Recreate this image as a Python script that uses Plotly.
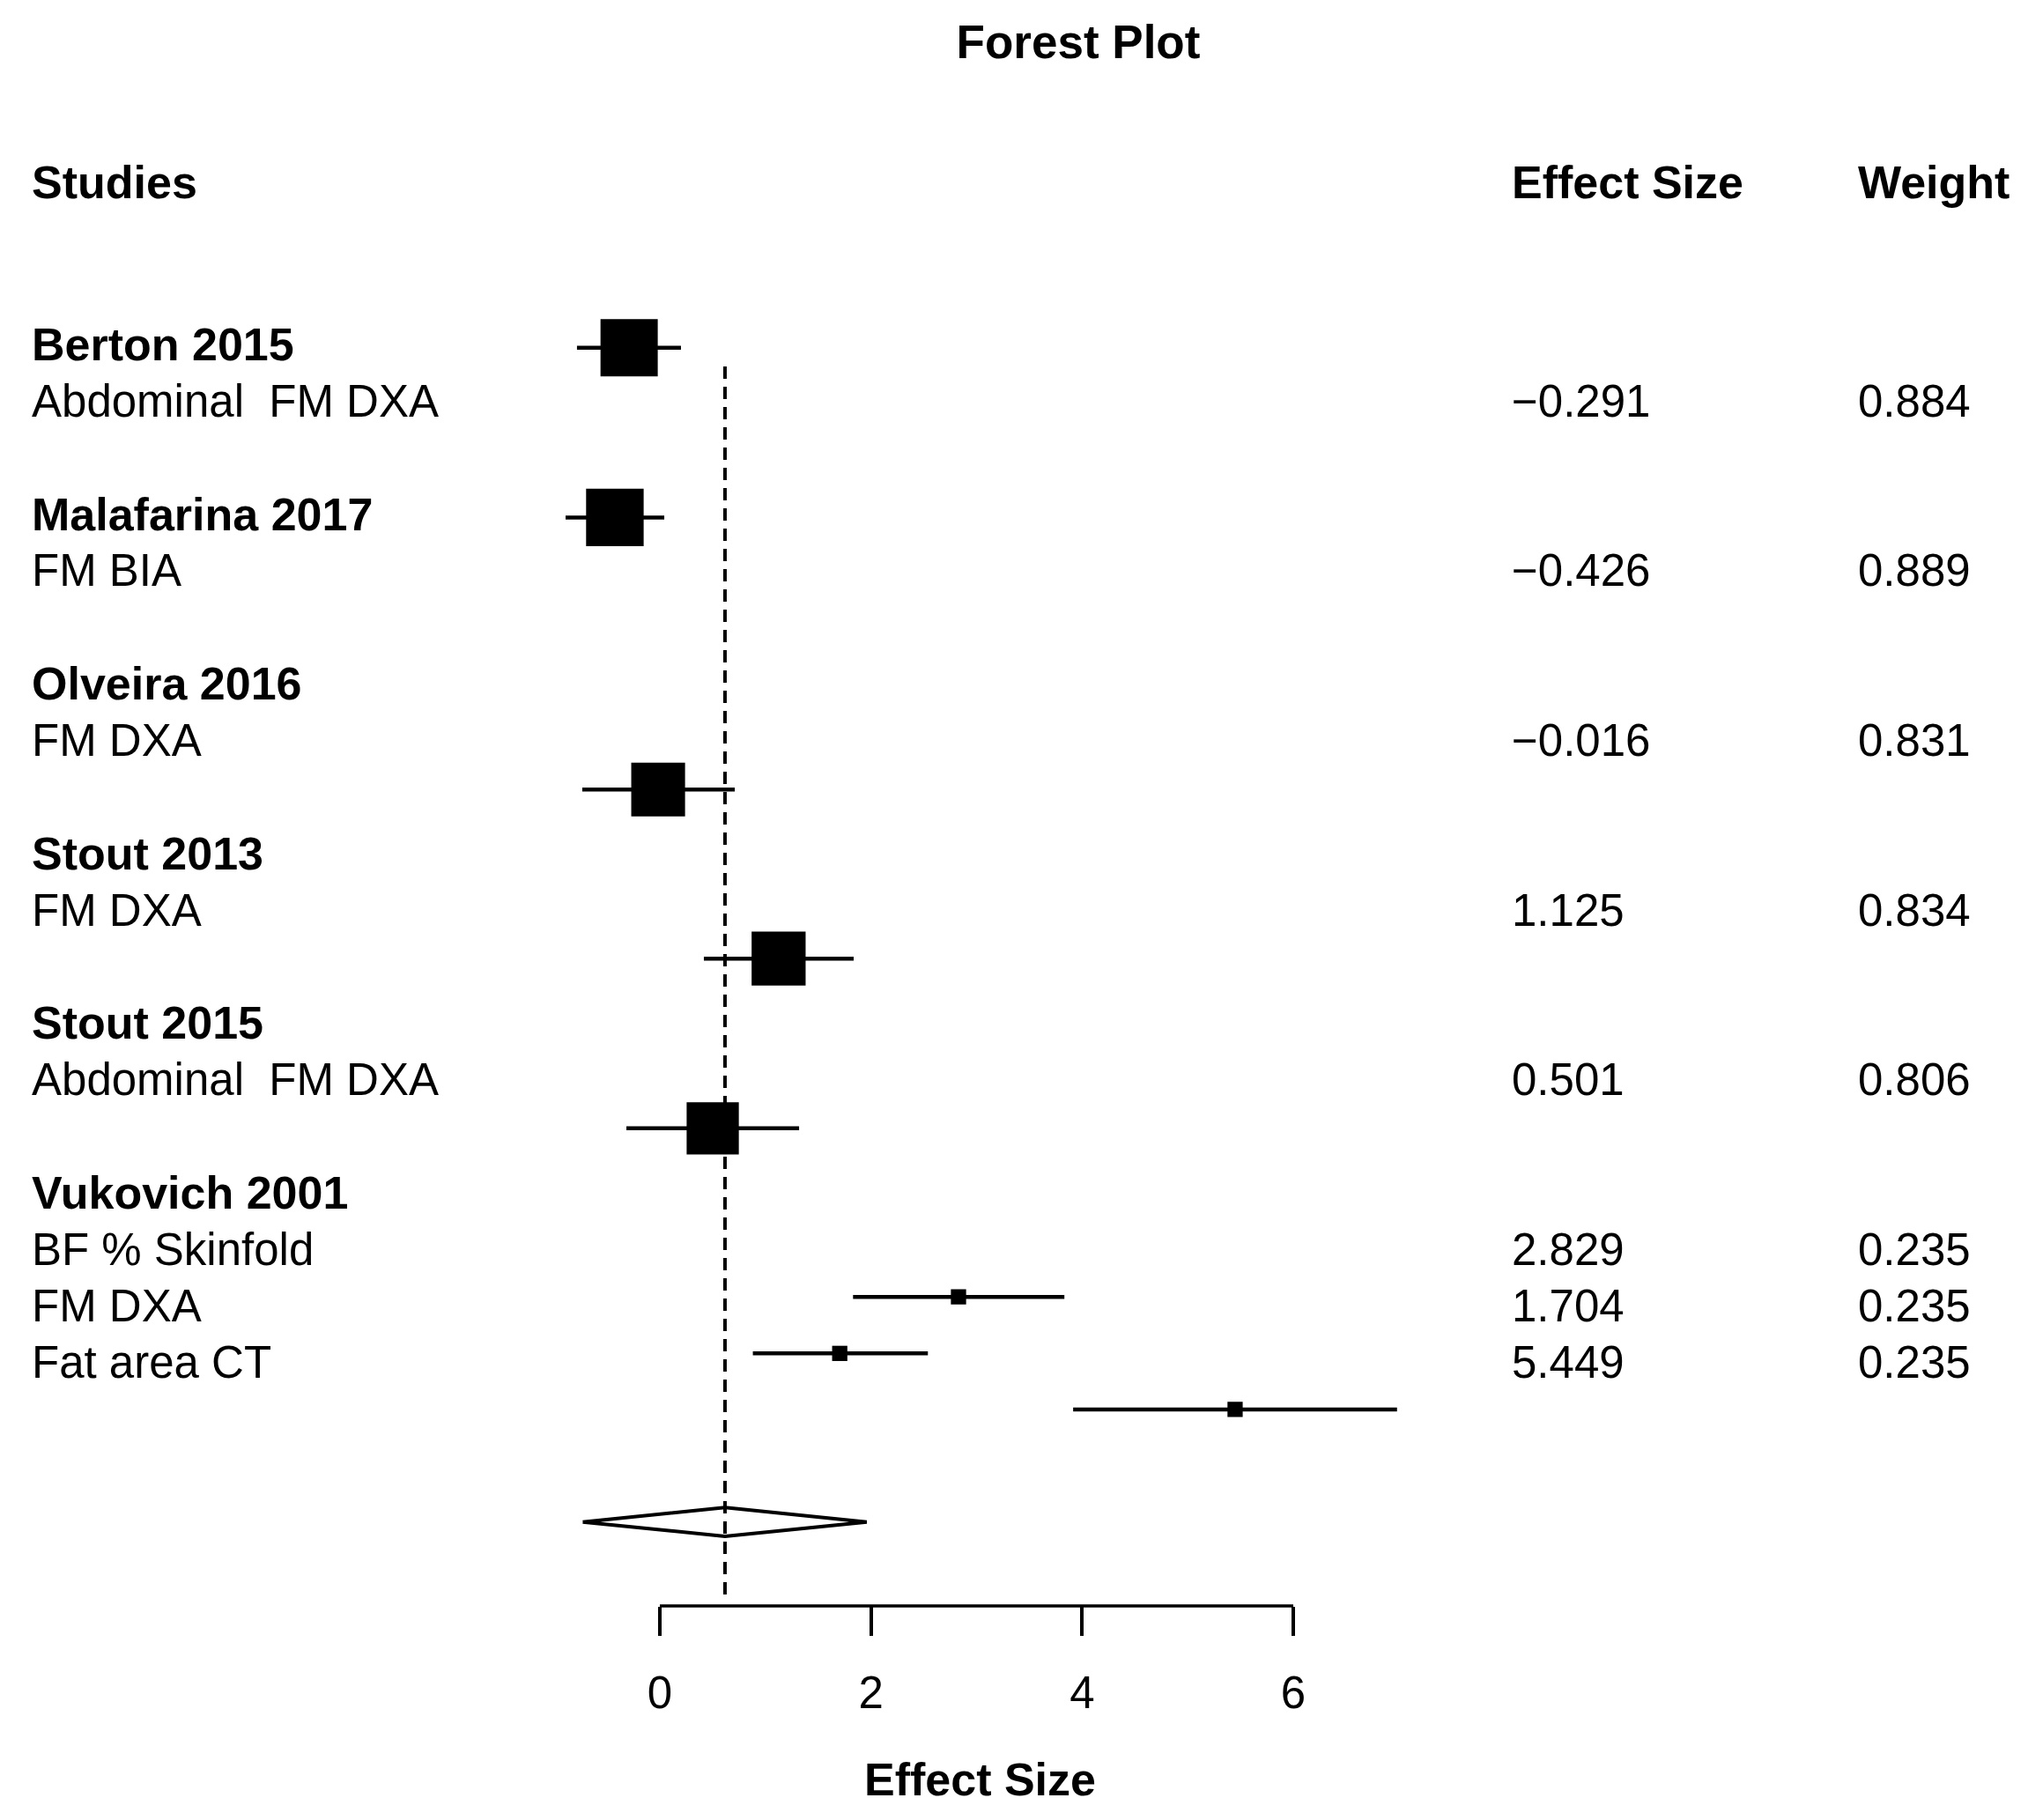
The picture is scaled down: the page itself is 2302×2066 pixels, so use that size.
import plotly.graph_objects as go

# study blocks as printed in the left column
studies = ["Berton 2015", "Malafarina 2017", "Olveira 2016", "Stout 2013", "Stout 2015", "Vukovich 2001"]
study_rows = [0, 3, 6, 9, 12, 15]

outcomes = ["Abdominal  FM DXA", "FM BIA", "FM DXA", "FM DXA", "Abdominal  FM DXA",
            "BF % Skinfold", "FM DXA", "Fat area CT"]
outcome_rows = [1, 4, 7, 10, 13, 16, 17, 18]

effect = [-0.291, -0.426, -0.016, 1.125, 0.501, 2.829, 1.704, 5.449]
ci_low = [-0.785, -0.893, -0.735, 0.417, -0.317, 1.830, 0.881, 3.915]
ci_high = [0.200, 0.042, 0.710, 1.836, 1.319, 3.832, 2.539, 6.983]
weight = [0.884, 0.889, 0.831, 0.834, 0.806, 0.235, 0.235, 0.235]
# rows where the boxes ended up in the original figure
box_rows = [0.06, 3.06, 7.87, 10.86, 13.86, 16.84, 17.84, 18.83]

summary_est = 0.617
summary_low = -0.73
summary_high = 1.96
summary_row = 20.82

x_ticks = [0, 2, 4, 6]

# page body has an 8px margin, so the figure is drawn 8px smaller and offset
OFF = 8
W, H = 2302 - OFF, 2066 - OFF
FONT = "Liberation Sans, Arial, Helvetica, sans-serif"
FS = 51
FS_BOLD = 52
plot_w = 2217 - OFF    # plot area width (right margin holds the Weight column)
x0_px = 749 - OFF      # pixel of x = 0
px_per_unit = 119.83
row0_px = 391 - OFF
px_per_row = 64.2
plot_h = 1823 - OFF
TXT_PAD = 4            # annotation box padding


def fmt(v):
    return f"{v:.3f}".replace("-", "\u2212")


fig = go.Figure()

# confidence intervals + boxes
fig.add_trace(go.Scatter(
    x=effect, y=box_rows, mode="markers",
    marker=dict(symbol="square", size=[w * 73.5 for w in weight], color="black",
                opacity=1, line=dict(width=0)),
    error_x=dict(type="data", symmetric=False,
                 array=[h - e for h, e in zip(ci_high, effect)],
                 arrayminus=[e - l for e, l in zip(effect, ci_low)],
                 color="black", thickness=4.5, width=0),
    hoverinfo="x", showlegend=False,
))

# summary diamond
dh = 0.254
fig.add_trace(go.Scatter(
    x=[summary_low, summary_est, summary_high, summary_est, summary_low],
    y=[summary_row, summary_row - dh, summary_row, summary_row + dh, summary_row],
    mode="lines", fill="toself", fillcolor="white",
    line=dict(color="black", width=4), showlegend=False, hoverinfo="skip",
))

# dashed line at the pooled estimate
fig.add_trace(go.Scatter(
    x=[summary_est, summary_est], y=[0.39, 22.13], mode="lines",
    line=dict(color="black", width=4, dash="14px,9px"),
    showlegend=False, hoverinfo="skip",
))

# axis line only across the tick span
fig.add_shape(type="line", xref="x", yref="paper",
              x0=min(x_ticks), x1=max(x_ticks), y0=0, y1=0,
              line=dict(color="black", width=3.5))

annotations = []


def add_text(txt, px, row, bold=False):
    annotations.append(dict(
        text=f"<b>{txt}</b>" if bold else txt,
        xref="paper", x=(px - OFF - TXT_PAD) / plot_w, xanchor="left",
        yref="y", y=row, yanchor="middle",
        showarrow=False,
        font=dict(family=FONT, size=FS_BOLD if bold else FS, color="black"),
    ))


add_text("Studies", 38, -2.87, bold=True)
add_text("Effect Size", 1718, -2.87, bold=True)
add_text("Weight", 2111, -2.87, bold=True)

for name, r in zip(studies, study_rows):
    add_text(name, 38, r, bold=True)

for lab, r, e, w in zip(outcomes, outcome_rows, effect, weight):
    add_text(lab, 38, r)
    add_text(fmt(e), 1718, r)
    add_text(fmt(w), 2111, r)

fig.update_layout(
    width=W, height=H,
    margin=dict(l=0, r=W - plot_w, t=0, b=H - plot_h, autoexpand=False),
    paper_bgcolor="white", plot_bgcolor="white",
    font=dict(family=FONT, size=FS, color="black"),
    title=dict(text="<b>Forest Plot</b>", x=(1224 - OFF) / W, xref="container", xanchor="center",
               y=1 - (47 - OFF) / H, yref="container", yanchor="middle",
               font=dict(family=FONT, size=53, color="black")),
    xaxis=dict(
        range=[-x0_px / px_per_unit, (plot_w - x0_px) / px_per_unit],
        tickvals=x_ticks, ticktext=[str(t) for t in x_ticks],
        ticks="outside", ticklen=33, tickwidth=3.5, tickcolor="black",
        ticklabelstandoff=21,
        tickfont=dict(family=FONT, size=FS, color="black"),
        showline=False, showgrid=False, zeroline=False, automargin=False,
        title=dict(text="<b>Effect Size</b>", standoff=52,
                   font=dict(family=FONT, size=FS_BOLD, color="black")),
    ),
    yaxis=dict(
        range=[(plot_h - row0_px) / px_per_row, -row0_px / px_per_row],
        visible=False, showgrid=False, zeroline=False,
    ),
    annotations=annotations,
)

fig.write_html("out.html")
